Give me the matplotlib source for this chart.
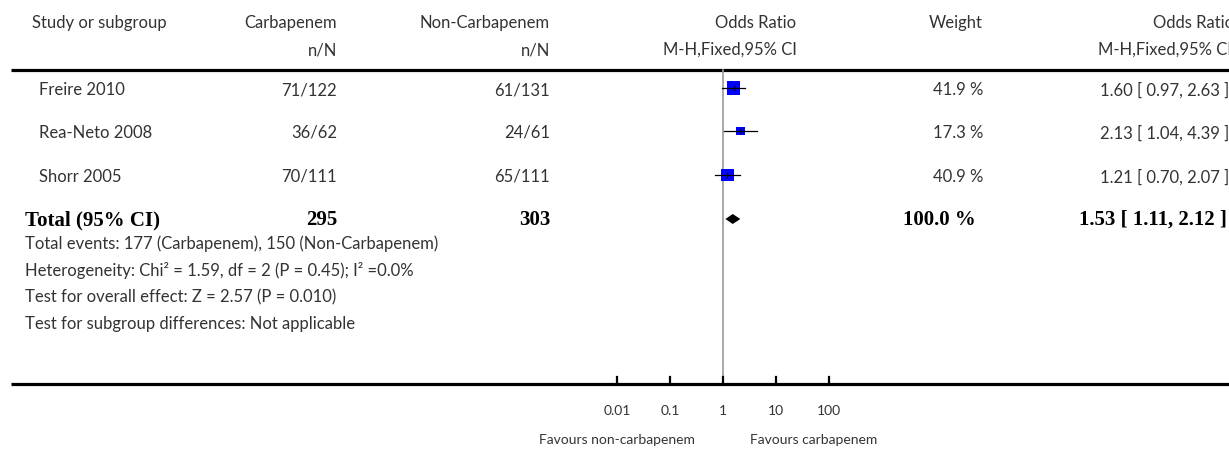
import matplotlib
matplotlib.use("Agg")
import matplotlib.pyplot as plt

# study data
studies = ["Freire 2010", "Rea-Neto 2008", "Shorr 2005"]
carb = ["71/122", "36/62", "70/111"]
noncarb = ["61/131", "24/61", "65/111"]
odds = [1.60, 2.13, 1.21]
ci_low = [0.97, 1.04, 0.70]
ci_high = [2.63, 4.39, 2.07]
weights = [41.9, 17.3, 40.9]

total_carb = 295
total_noncarb = 303
total_or = 1.53
total_low = 1.11
total_high = 2.12

footer = [
    "Total events: 177 (Carbapenem), 150 (Non-Carbapenem)",
    "Heterogeneity: Chi² = 1.59, df = 2 (P = 0.45); I² =0.0%",
    "Test for overall effect: Z = 2.57 (P = 0.010)",
    "Test for subgroup differences: Not applicable",
]
ticks = [0.01, 0.1, 1, 10, 100]
tick_labels = ["0.01", "0.1", "1", "10", "100"]

W, H = 1229, 449
fig = plt.figure(figsize=(W / 100, H / 100), dpi=100)

# text layer in pixel coordinates
tab = fig.add_axes([0, 0, 1, 1])
tab.set_xlim(0, W)
tab.set_ylim(H, 0)
tab.axis('off')

# forest layer, log scale, 1 sits at x=723 px, 53 px per decade
x_one, decade = 723, 53
fp = fig.add_axes([0, 0, 1, 1])
fp.set_xscale('log')
fp.set_xlim(10 ** (-x_one / decade), 10 ** ((W - x_one) / decade))
fp.set_ylim(H, 0)
fp.axis('off')
fp.patch.set_alpha(0)

grey = "#333333"
sans = dict(family="Lato", fontsize=12, color=grey)
small = dict(family="Lato", fontsize=10, color=grey)
bold = dict(family="Liberation Serif", fontsize=15, fontweight="bold", color="black")

# headers
tab.text(32, 23, "Study or subgroup", ha="left", va="center", **sans)
tab.text(337, 23, "Carbapenem", ha="right", va="center", **sans)
tab.text(550, 23, "Non-Carbapenem", ha="right", va="center", **sans)
tab.text(796, 23, "Odds Ratio", ha="right", va="center", **sans)
tab.text(983, 23, "Weight", ha="right", va="center", **sans)
tab.text(1234, 23, "Odds Ratio", ha="right", va="center", **sans)
tab.text(337, 50, "n/N", ha="right", va="center", **sans)
tab.text(550, 50, "n/N", ha="right", va="center", **sans)
tab.text(797, 50, "M-H,Fixed,95% CI", ha="right", va="center", **sans)
tab.text(1232, 50, "M-H,Fixed,95% CI", ha="right", va="center", **sans)

tab.plot([11, W], [70, 70], color="black", lw=2.3, solid_capstyle="butt")
tab.plot([11, W], [384, 384], color="black", lw=2.3, solid_capstyle="butt")

rows = [88, 131, 175]
for i, y in enumerate(rows):
    tab.text(39, y + 2, studies[i], ha="left", va="center", **sans)
    tab.text(337, y + 2, carb[i], ha="right", va="center", **sans)
    tab.text(550, y + 2, noncarb[i], ha="right", va="center", **sans)
    tab.text(983, y + 2, "%.1f %%" % weights[i], ha="right", va="center", **sans)
    tab.text(1229, y + 2, "%.2f [ %.2f, %.2f ]" % (odds[i], ci_low[i], ci_high[i]),
             ha="right", va="center", **sans)
    fp.scatter([odds[i]], [y], marker="s", s=weights[i] * 2.1, color="#0000ff",
               edgecolors="none", zorder=3)
    fp.plot([ci_low[i], ci_high[i]], [y, y], color="black", lw=0.9, zorder=4)
    fp.plot([odds[i], odds[i]], [y - 2, y + 2], color="black", lw=0.8, zorder=4)

ty = 219
tab.text(25, ty + 1, "Total (95% CI)", ha="left", va="center", **bold)
tab.text(337, ty + 1, str(total_carb), ha="right", va="center", **bold)
tab.text(550, ty + 1, str(total_noncarb), ha="right", va="center", **bold)
tab.text(976, ty + 1, "100.0 %", ha="right", va="center", **bold)
tab.text(1227, ty + 1, "%.2f [ %.2f, %.2f ]" % (total_or, total_low, total_high),
         ha="right", va="center", **bold)
fp.fill([total_low, total_or, total_high, total_or], [ty, ty - 5, ty, ty + 5],
        color="black", lw=0, zorder=3)

for j, line in enumerate(footer):
    tab.text(25, 244 + j * 26.7, line, ha="left", va="center", **sans)

# null line and scale
fp.plot([1, 1], [70, 384], color="#999999", lw=1.2, zorder=1)
for t, lab in zip(ticks, tick_labels):
    fp.plot([t, t], [377, 384], color="black", lw=1.6)
    fp.text(t, 411, lab, ha="center", va="center", **small)
tab.text(695, 440, "Favours non-carbapenem", ha="right", va="center", **small)
tab.text(750, 440, "Favours carbapenem", ha="left", va="center", **small)

fig.savefig("out.png", dpi=100)
